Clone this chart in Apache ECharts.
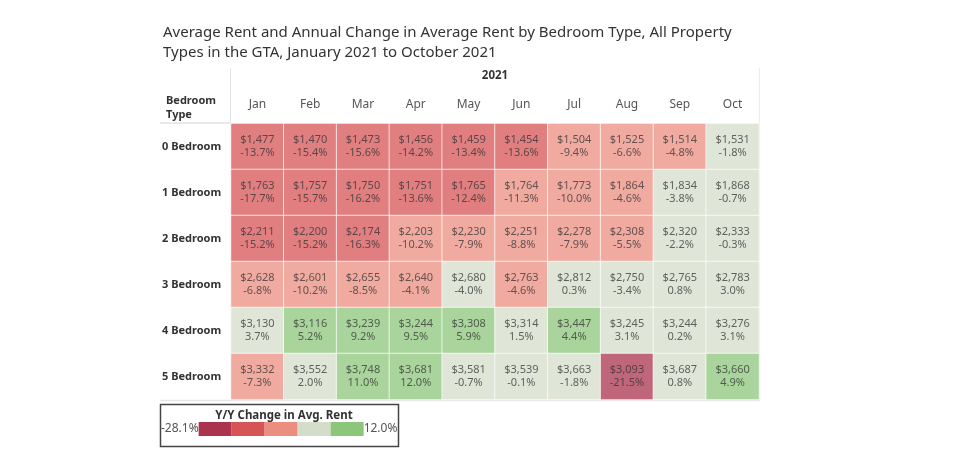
<!DOCTYPE html>
<html>
<head>
<meta charset="utf-8">
<script src="https://cdn.jsdelivr.net/npm/echarts@6/dist/echarts.min.js"></script>
<style>html,body{margin:0;padding:0;background:#fff;}#c{width:980px;height:475px;}</style>
</head>
<body>
<div id="c"></div>
<script>
var months = ['Jan','Feb','Mar','Apr','May','Jun','Jul','Aug','Sep','Oct'];
var bedroomTypes = ['0 Bedroom','1 Bedroom','2 Bedroom','3 Bedroom','4 Bedroom','5 Bedroom'];
var rent0 = [1477,1470,1473,1456,1459,1454,1504,1525,1514,1531];
var rent1 = [1763,1757,1750,1751,1765,1764,1773,1864,1834,1868];
var rent2 = [2211,2200,2174,2203,2230,2251,2278,2308,2320,2333];
var rent3 = [2628,2601,2655,2640,2680,2763,2812,2750,2765,2783];
var rent4 = [3130,3116,3239,3244,3308,3314,3447,3245,3244,3276];
var rent5 = [3332,3552,3748,3681,3581,3539,3663,3093,3687,3660];
var chg0 = [-13.7,-15.4,-15.6,-14.2,-13.4,-13.6,-9.4,-6.6,-4.8,-1.8];
var chg1 = [-17.7,-15.7,-16.2,-13.6,-12.4,-11.3,-10.0,-4.6,-3.8,-0.7];
var chg2 = [-15.2,-15.2,-16.3,-10.2,-7.9,-8.8,-7.9,-5.5,-2.2,-0.3];
var chg3 = [-6.8,-10.2,-8.5,-4.1,-4.0,-4.6,0.3,-3.4,0.8,3.0];
var chg4 = [3.7,5.2,9.2,9.5,5.9,1.5,4.4,3.1,0.2,3.1];
var chg5 = [-7.3,2.0,11.0,12.0,-0.7,-0.1,-1.8,-21.5,0.8,4.9];
var legendMin = -28.1, legendMax = 12.0;
var binColors = ['#ab334e','#d65356','#eb8e80','#d4dcca','#8cc67a'];

var rents = [rent0,rent1,rent2,rent3,rent4,rent5];
var changes = [chg0,chg1,chg2,chg3,chg4,chg5];
var data = [];
for (var r = 0; r < bedroomTypes.length; r++) {
  for (var m = 0; m < months.length; m++) {
    data.push([m, r, changes[r][m], rents[r][m]]);
  }
}
var step = (legendMax - legendMin) / 5;
var pieces = [];
for (var i = 0; i < 5; i++) {
  var lo = legendMin + step * i, hi = (i === 4) ? legendMax : legendMin + step * (i + 1);
  var pc = {color: binColors[i]};
  pc.gte = lo;
  if (i === 4) { pc.lte = hi; } else { pc.lt = hi; }
  pieces.push(pc);
}
function fmtRent(v) { return '$' + v.toLocaleString('en-US'); }
function fmtPct(v) { return v.toFixed(1) + '%'; }

var font = 'Noto Sans';
var chart = echarts.init(document.getElementById('c'));
chart.setOption({
  backgroundColor: '#ffffff',
  animation: false,
  title: [
    {text: 'Average Rent and Annual Change in Average Rent by Bedroom Type, All Property\nTypes in the GTA, January 2021 to October 2021',
     left: 158, top: 18, textStyle: {fontFamily: font, fontSize: 15, fontWeight: 'normal', color: '#333', lineHeight: 20}},
    {text: 'Bedroom\nType', left: 161, top: 89,
     textStyle: {fontFamily: font, fontSize: 11, fontWeight: 'bold', color: '#333', lineHeight: 14}},
    {text: 'Y/Y Change in Avg. Rent', left: 279, top: 405, textAlign: 'center',
     textStyle: {fontFamily: font, fontSize: 11.5, fontWeight: 'bold', color: '#333'}}
  ],
  grid: {left: 231, right: 221, top: 123.5, bottom: 75.5},
  xAxis: {
    type: 'category', data: months, position: 'top',
    name: '2021', nameLocation: 'middle', nameGap: 42,
    nameTextStyle: {fontFamily: font, fontSize: 11.5, fontWeight: 'bold', color: '#333'},
    axisLine: {show: false}, axisTick: {show: false}, splitLine: {show: false},
    axisLabel: {fontFamily: font, fontSize: 12, color: '#555', margin: 13}
  },
  yAxis: {
    type: 'category', data: bedroomTypes, inverse: true,
    axisLine: {show: false}, axisTick: {show: false}, splitLine: {show: false},
    axisLabel: {fontFamily: font, fontSize: 11, fontWeight: 'bold', color: '#333', align: 'left', margin: 69}
  },
  visualMap: {
    type: 'piecewise', dimension: 2, pieces: pieces, orient: 'horizontal',
    left: 161, top: 422, itemWidth: 33, itemHeight: 14, itemGap: 0, itemSymbol: 'rect',
    showLabel: false, text: ['12.0%', '-28.1%'], textGap: 2, selectedMode: false,
    textStyle: {fontFamily: font, fontSize: 12, color: '#555'}, padding: 0
  },
  series: [{
    type: 'heatmap', data: data,
    itemStyle: {borderColor: '#ffffff', borderWidth: 1, opacity: 0.75},
    emphasis: {disabled: true},
    label: {
      show: true, fontFamily: font, fontSize: 11, lineHeight: 13, color: '#333', offset: [0, 0],
      formatter: function (p) { return fmtRent(p.data[3]) + '\n' + fmtPct(p.data[2]); }
    }
  }],
  graphic: [
    {type: 'line', shape: {x1: 230.5, y1: 68, x2: 230.5, y2: 123}, style: {stroke: '#e2e2e2', lineWidth: 1}},
    {type: 'line', shape: {x1: 160, y1: 123, x2: 230, y2: 123}, style: {stroke: '#e2e2e2', lineWidth: 1.5}},
    {type: 'line', shape: {x1: 759.5, y1: 68, x2: 759.5, y2: 400}, style: {stroke: '#ececec', lineWidth: 1}},
    {type: 'line', shape: {x1: 160, y1: 400.5, x2: 760, y2: 400.5}, style: {stroke: '#e6e6e6', lineWidth: 1.5}},
    {type: 'rect', shape: {x: 160.5, y: 404.5, width: 238, height: 42}, style: {fill: 'none', stroke: '#444', lineWidth: 1.5}, z: 10}
  ]
});
</script>
</body>
</html>
